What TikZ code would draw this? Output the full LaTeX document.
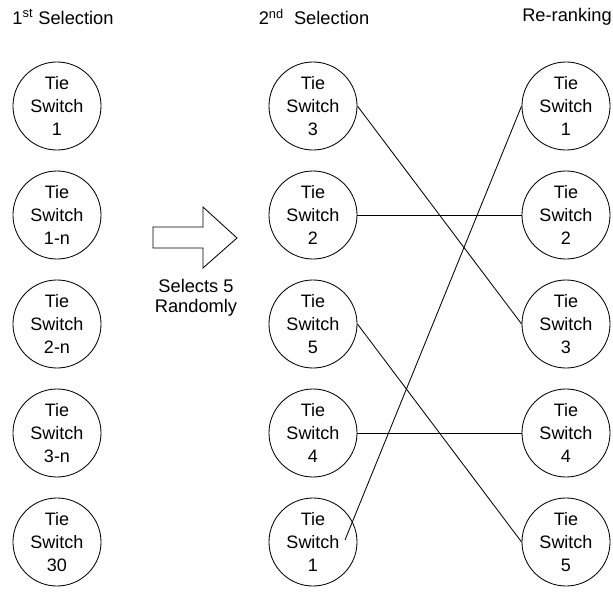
\documentclass[tikz,border=0pt]{standalone}
\usepackage{fontspec}
\setmainfont{Liberation Sans}
\begin{document}
\begin{tikzpicture}[x=0.025cm, y=-0.025cm, line width=0.6pt,
  tie_switch/.style={draw, circle, minimum size=2.2cm, inner sep=0pt, align=center,
    font=\fontsize{12.8}{16.5}\selectfont},
  col_head/.style={font=\fontsize{13}{15}\selectfont}]

\useasboundingbox (0,0) rectangle (613,592);

\node[col_head] (h1) at (63,17)  {1\textsuperscript{st} Selection};
\node[col_head] (h2) at (314,17)  {2\textsuperscript{nd}~ Selection};
\node[col_head] (h3) at (567,17)  {Re-ranking};

\node[tie_switch] (a1) at (57,106)  {Tie\\Switch\\1};
\node[tie_switch] (a2) at (57,215)  {Tie\\Switch\\1-n};
\node[tie_switch] (a3) at (57,324)  {Tie\\Switch\\2-n};
\node[tie_switch] (a4) at (57,433)  {Tie\\Switch\\3-n};
\node[tie_switch] (a5) at (57,542)  {Tie\\Switch\\30};

\node[tie_switch] (b1) at (313,106)  {Tie\\Switch\\3};
\node[tie_switch] (b2) at (313,215)  {Tie\\Switch\\2};
\node[tie_switch] (b3) at (313,324)  {Tie\\Switch\\5};
\node[tie_switch] (b4) at (313,433)  {Tie\\Switch\\4};
\node[tie_switch] (b5) at (313,542)  {Tie\\Switch\\1};

\node[tie_switch] (c1) at (566,106)  {Tie\\Switch\\1};
\node[tie_switch] (c2) at (566,215)  {Tie\\Switch\\2};
\node[tie_switch] (c3) at (566,324)  {Tie\\Switch\\3};
\node[tie_switch] (c4) at (566,433)  {Tie\\Switch\\4};
\node[tie_switch] (c5) at (566,542)  {Tie\\Switch\\5};

% selection arrow
\draw (153,227) -- (203,227) -- (203,207) -- (237,238) -- (203,268) -- (203,248) -- (153,248) -- cycle;
\node[align=center, font=\fontsize{13}{14.5}\selectfont] (sel) at (196,298) {Selects 5\\Randomly};

\coordinate (b5in) at (345,540);

\draw(b1.east) -- (c3.west);
\draw(b2.east) -- (c2.west);
\draw(b3.east) -- (c5.west);
\draw(b4.east) -- (c4.west);
\draw(b5in) -- (c1.west);

\end{tikzpicture}
\end{document}
